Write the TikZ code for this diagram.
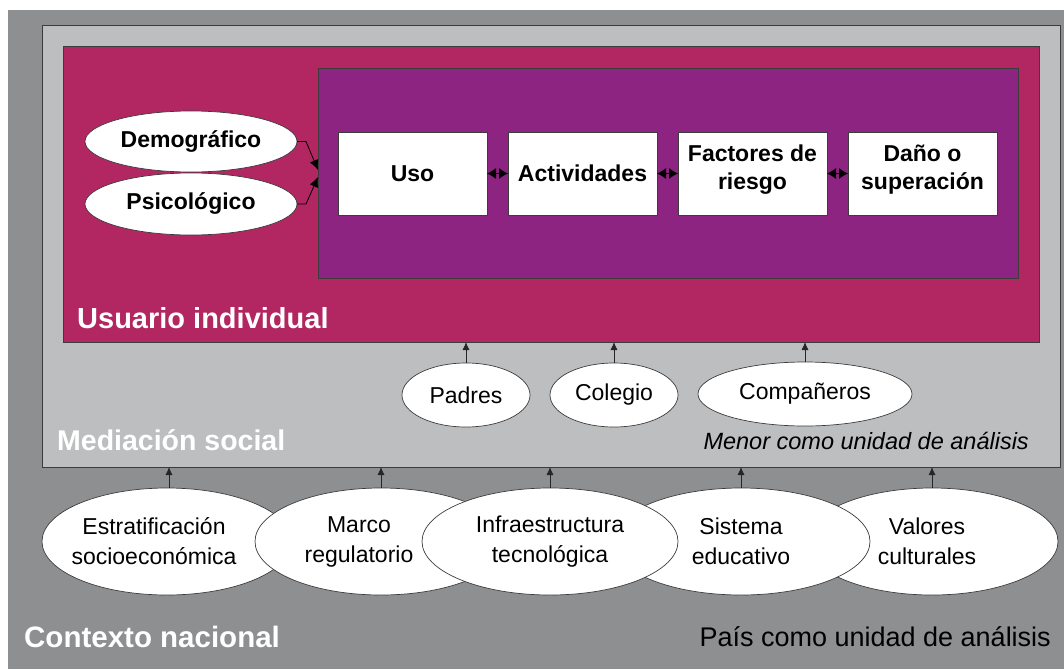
\documentclass[tikz,border=0pt]{standalone}
\usepackage{fontspec}
\setmainfont{Liberation Sans}
\usetikzlibrary{shapes.geometric,arrows.meta}
\definecolor{darkbg}{RGB}{142,143,145}
\definecolor{lightbg}{RGB}{189,190,192}
\definecolor{magentabg}{RGB}{178,38,97}
\definecolor{purplebg}{RGB}{142,36,130}
\definecolor{edge}{RGB}{60,60,60}
\tikzset{
  panel/.style={draw=edge, line width=0.8pt, inner sep=0pt, outer sep=0pt},
  whitebox/.style={panel, fill=white, minimum width=149pt, minimum height=83pt,
    align=center, font=\fontsize{23}{28}\selectfont\bfseries},
  oval/.style={ellipse, draw=edge, line width=0.7pt, fill=white, inner sep=0pt, outer sep=0pt, align=center},
  boldoval/.style={oval, font=\fontsize{23}{26}\selectfont\bfseries},
  medoval/.style={oval, font=\fontsize{23}{26}\selectfont, minimum height=64pt},
  ctxoval/.style={oval, inner xsep=-20pt, font=\fontsize{23}{30}\selectfont, minimum height=107pt},
  uparrow/.style={draw=black!85, line width=0.8pt, -{Latex[length=8pt,width=7pt]}},
  duo/.style={draw=black, line width=1pt, {Latex[length=9pt,width=11pt]}-{Latex[length=9pt,width=11pt]}},
  heading/.style={font=\fontsize{29}{32}\selectfont\bfseries, text=white, inner sep=0pt},
}
\begin{document}
\begin{tikzpicture}[x=1pt,y=-1pt]
\useasboundingbox (0,0) rectangle (1064,669);
\fill[white] (0,0) rectangle (1064,669);
\fill[darkbg] (8,10) rectangle (1064,669);
% panels
\node[panel, fill=lightbg, minimum width=1018pt, minimum height=442pt] (med) at (551,246) {};
\node[panel, fill=magentabg, minimum width=976pt, minimum height=296pt] (usr) at (551,194) {};
\node[panel, fill=purplebg, minimum width=700pt, minimum height=210pt] (inner) at (668,173) {};
% white boxes
\node[whitebox] (uso) at (412.5,173.5) {Uso};
\node[whitebox] (act) at (582.5,173.5) {Actividades};
\node[whitebox] (fac) at (752.5,173.5) {Factores de\\riesgo\\[-16pt]};
\node[whitebox] (dan) at (922.5,173.5) {Daño o\\superación\\[-16pt]};
\draw[duo] (uso) -- (act);
\draw[duo] (act) -- (fac);
\draw[duo] (fac) -- (dan);
% individual ovals
\node[boldoval, minimum width=212pt, minimum height=61pt] (demo) at (191,141.5) {Demográfico};
\node[boldoval, minimum width=212pt, minimum height=62pt] (psico) at (191,204) {Psicológico};
\draw[line width=0.8pt, -{Latex[length=10pt,width=9pt]}] (demo.east) -- ++(9,0) -- ([yshift=3pt]inner.west);
\draw[line width=0.8pt, -{Latex[length=10pt,width=9pt]}] (psico.east) -- ++(9,0) -- ([yshift=-4pt]inner.west);
\node[heading, anchor=west] (usrlab) at (77,318) {Usuario individual};
% mediation ovals
\node[medoval, minimum width=128pt] (pad) at (466,395) {Padres};
\node[medoval, minimum width=128pt] (col) at (614,395) {Colegio};
\node[medoval, minimum width=214pt] (comp) at (805,394) {Compañeros};
\draw[uparrow] (pad.north) -- (pad.north |- usr.south);
\draw[uparrow] (col.north) -- (col.north |- usr.south);
\draw[uparrow] (comp.north) -- (comp.north |- usr.south);
\node[heading, anchor=west, font=\fontsize{28.5}{32}\selectfont\bfseries] (medlab) at (57,440) {Mediación social};
\node[anchor=east, inner sep=0pt, font=\fontsize{23.5}{26}\selectfont\itshape] (menor) at (1029,441) {Menor como unidad de análisis};
% national context ovals
\node[ctxoval, minimum width=250pt] (est) at (167,541.5) {Estratificación\hspace*{26pt}\\socioeconómica\hspace*{26pt}};
\node[ctxoval, minimum width=252pt] (mar) at (381,541.5) {Marco\hspace*{44pt}\\regulatorio\hspace*{44pt}};
\node[ctxoval, minimum width=252pt] (val) at (932,541.5) {Valores\hspace*{10pt}\\culturales\hspace*{10pt}};
\node[ctxoval, minimum width=258pt] (sis) at (741,541.5) {Sistema\\educativo};
\node[ctxoval, minimum width=256pt] (inf) at (550,541.5) {Infraestructura\\tecnológica};
\draw[uparrow] ([xshift=2pt]est.north) -- ([xshift=2pt]est.north |- med.south);
\draw[uparrow] (mar.north) -- (mar.north |- med.south);
\draw[uparrow] (inf.north) -- (inf.north |- med.south);
\draw[uparrow] (sis.north) -- (sis.north |- med.south);
\draw[uparrow] (val.north) -- (val.north |- med.south);
\node[heading, anchor=west, font=\fontsize{29.5}{32}\selectfont\bfseries] (ctxlab) at (24,637) {Contexto nacional};
\node[anchor=east, inner sep=0pt, font=\fontsize{27}{30}\selectfont] (pais) at (1051,637) {País como unidad de análisis};
\end{tikzpicture}
\end{document}
